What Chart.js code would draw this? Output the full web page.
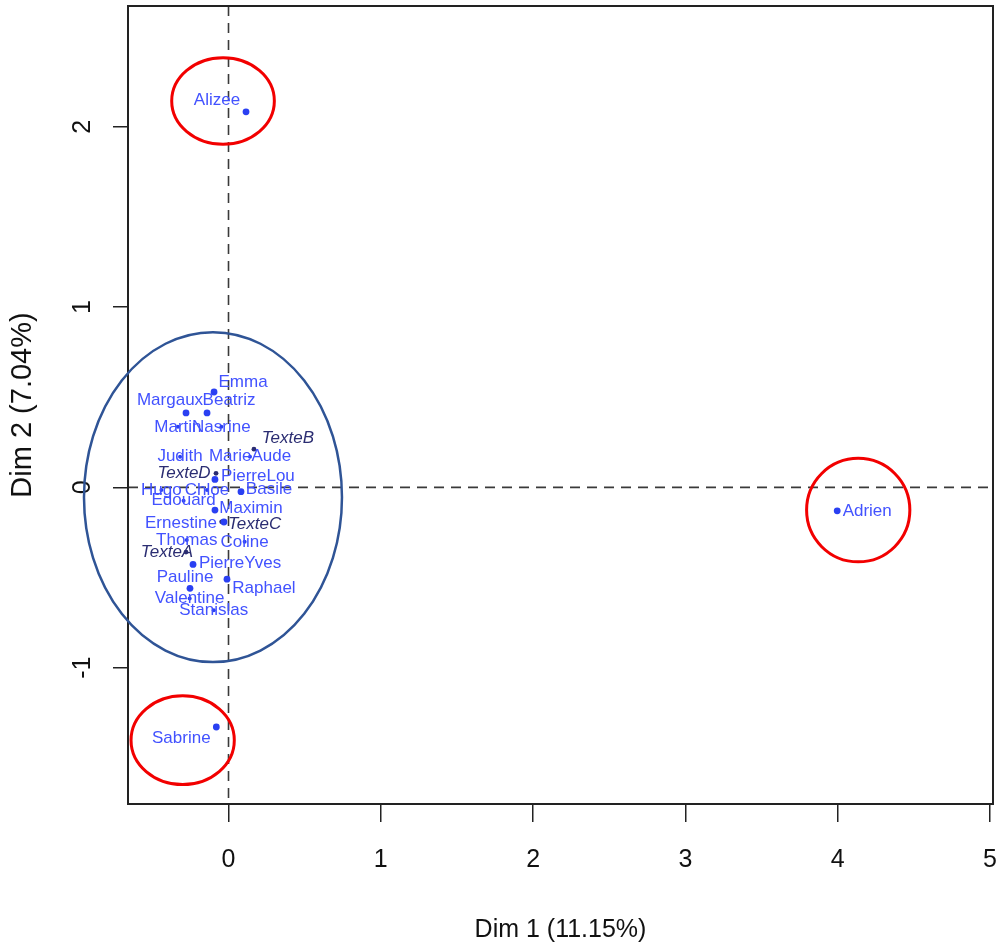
<!DOCTYPE html>
<html>
<head>
<meta charset="utf-8">
<title>Dim 1 / Dim 2 map</title>
<script src="https://cdn.jsdelivr.net/npm/chart.js@4.4.1/dist/chart.umd.min.js"></script>
<style>
  html, body { margin: 0; padding: 0; background: #fff; }
  #wrap { width: 998px; height: 948px; }
</style>
</head>
<body>
<div id="wrap"><canvas id="map" width="998" height="948"></canvas></div>
<script>
// row points (students)
const students = ['Alizee', 'Adrien', 'Sabrine', 'Emma', 'Margaux', 'Beatriz', 'Martin', 'Nasrine',
  'Judith', 'MarieAude', 'PierreLou', 'Hugo', 'Chloe', 'Basile', 'Edouard', 'Maximin', 'Ernestine',
  'Thomas', 'Coline', 'PierreYves', 'Raphael', 'Pauline', 'Valentine', 'Stanislas'];
const studentDim1 = [0.115, 3.997, -0.080, -0.095, -0.279, -0.141, -0.332, -0.047,
  -0.318, 0.141, -0.089, -0.441, -0.141, 0.082, -0.295, -0.089, -0.030,
  -0.274, 0.106, -0.233, -0.010, -0.253, -0.255, -0.097];
const studentDim2 = [2.083, -0.130, -1.329, 0.529, 0.413, 0.413, 0.336, 0.336,
  0.170, 0.170, 0.044, -0.015, -0.015, -0.024, -0.074, -0.126, -0.192,
  -0.292, -0.302, -0.427, -0.509, -0.560, -0.616, -0.681];

// column points (texts)
const texts = ['TexteA', 'TexteB', 'TexteC', 'TexteD'];
const textDim1 = [-0.279, 0.167, -0.045, -0.082];
const textDim2 = [-0.359, 0.212, -0.191, 0.078];

const xTicks = [0, 1, 2, 3, 4, 5];
const yTicks = [-1, 0, 1, 2];
const xTitle = 'Dim 1 (11.15%)';
const yTitle = 'Dim 2 (7.04%)';

// where each label sits relative to its point (px); the rest are centred on the point
const labelShift = {
  Alizee: [-29, -12], Adrien: [30, 0], Sabrine: [-35, 11], Emma: [29, -10],
  Margaux: [-16, -13], Beatriz: [22, -13], PierreLou: [43, -3], Basile: [28, -2],
  Maximin: [36, -2], Ernestine: [-43, 1], PierreYves: [47, -1], Raphael: [37, 9],
  Pauline: [-5, -11], TexteA: [-19, 0], TexteB: [34, -11], TexteC: [33, 2], TexteD: [-32, 0]
};

// hand drawn rings (data units)
const rings = [
  { cx: -0.036, cy: 2.143, rx: 0.337, ry: 0.240, color: '#f20000', width: 3 },
  { cx: 4.135, cy: -0.126, rx: 0.339, ry: 0.287, color: '#f20000', width: 3 },
  { cx: -0.301, cy: -1.402, rx: 0.339, ry: 0.246, color: '#f20000', width: 3 },
  { cx: -0.102, cy: -0.054, rx: 0.847, ry: 0.915, color: '#2f5496', width: 2.5 }
];

const FONT = "'Liberation Sans', Arial, Helvetica, sans-serif";
const ROW_TEXT = '#4252ff';
const COL_TEXT = '#2b2d72';

// points whose label sits right on top of them are drawn small so the text covers them
const pointSize = name => (labelShift[name] ? 3.4 : 2);

const mapDecor = {
  id: 'mapDecor',
  beforeDatasetsDraw(chart) {
    const { ctx, chartArea: a, scales: { x, y } } = chart;
    const x0 = x.getPixelForValue(0);
    const y0 = y.getPixelForValue(0);
    ctx.save();
    ctx.strokeStyle = '#3a3a3a';
    ctx.lineWidth = 1.6;
    ctx.setLineDash([10, 7]);
    ctx.beginPath();
    ctx.moveTo(x0, a.top); ctx.lineTo(x0, a.bottom);
    ctx.moveTo(a.left, y0); ctx.lineTo(a.right, y0);
    ctx.stroke();
    ctx.restore();
  },
  afterDatasetsDraw(chart) {
    const { ctx } = chart;
    ctx.save();
    ctx.textAlign = 'center';
    ctx.textBaseline = 'middle';
    chart.data.datasets.forEach((ds, di) => {
      const meta = chart.getDatasetMeta(di);
      ctx.fillStyle = di === 0 ? ROW_TEXT : COL_TEXT;
      ctx.font = (di === 0 ? '' : 'italic ') + '17px ' + FONT;
      meta.data.forEach((pt, i) => {
        const name = ds.names[i];
        const s = labelShift[name] || [0, 0];
        ctx.fillText(name, pt.x + s[0], pt.y + s[1]);
      });
    });
    ctx.restore();
  },
  afterDraw(chart) {
    const { ctx, chartArea: a, scales: { x, y } } = chart;
    ctx.save();
    // box
    ctx.strokeStyle = '#222';
    ctx.lineWidth = 2;
    ctx.strokeRect(a.left, a.top, a.right - a.left, a.bottom - a.top);
    // y tick labels, rotated like R
    ctx.fillStyle = '#111';
    ctx.font = '25px ' + FONT;
    ctx.textAlign = 'center';
    ctx.textBaseline = 'middle';
    y.ticks.forEach(t => {
      ctx.save();
      ctx.translate(83, y.getPixelForValue(t.value));
      ctx.rotate(-Math.PI / 2);
      ctx.fillText(String(t.value), 0, 0);
      ctx.restore();
    });
    // rings
    rings.forEach(r => {
      const px = x.getPixelForValue(r.cx);
      const py = y.getPixelForValue(r.cy);
      const prx = Math.abs(x.getPixelForValue(r.cx + r.rx) - px);
      const pry = Math.abs(y.getPixelForValue(r.cy + r.ry) - py);
      ctx.strokeStyle = r.color;
      ctx.lineWidth = r.width;
      ctx.beginPath();
      ctx.ellipse(px, py, prx, pry, 0, 0, Math.PI * 2);
      ctx.stroke();
    });
    ctx.restore();
  }
};

new Chart(document.getElementById('map'), {
  type: 'scatter',
  data: {
    datasets: [
      {
        label: 'students',
        names: students,
        data: students.map((n, i) => ({ x: studentDim1[i], y: studentDim2[i] })),
        backgroundColor: '#2a40f2',
        borderWidth: 0,
        pointRadius: students.map(pointSize)
      },
      {
        label: 'texts',
        names: texts,
        data: texts.map((n, i) => ({ x: textDim1[i], y: textDim2[i] })),
        backgroundColor: COL_TEXT,
        borderWidth: 0,
        pointRadius: 2.4
      }
    ]
  },
  options: {
    responsive: false,
    animation: false,
    layout: { padding: { top: 6, right: 5, left: 0, bottom: 0 } },
    plugins: { legend: { display: false }, tooltip: { enabled: false } },
    scales: {
      x: {
        type: 'linear',
        min: -0.66,
        max: 5.02,
        afterBuildTicks: s => { s.ticks = xTicks.map(v => ({ value: v })); },
        afterFit: s => { s.height = 144; s.paddingLeft = 0; s.paddingRight = 0; },
        grid: { drawOnChartArea: false, drawTicks: true, tickLength: 18, color: '#222', lineWidth: 1.5 },
        border: { display: false },
        ticks: { color: '#111', font: { family: FONT, size: 25 }, padding: 23, maxRotation: 0 },
        title: { display: true, text: xTitle, color: '#111', font: { family: FONT, size: 25 }, padding: { top: 0, bottom: 3 } }
      },
      y: {
        type: 'linear',
        min: -1.756,
        max: 2.67,
        afterBuildTicks: s => { s.ticks = yTicks.map(v => ({ value: v })); },
        afterFit: s => { s.width = 128; s.paddingTop = 0; s.paddingBottom = 0; },
        grid: { drawOnChartArea: false, drawTicks: true, tickLength: 15, color: '#222', lineWidth: 1.5 },
        border: { display: false },
        ticks: { display: false },
        title: { display: true, text: yTitle, color: '#111', font: { family: FONT, size: 29 }, padding: { top: 6, bottom: 0 } }
      }
    }
  },
  plugins: [mapDecor]
});
</script>
</body>
</html>
